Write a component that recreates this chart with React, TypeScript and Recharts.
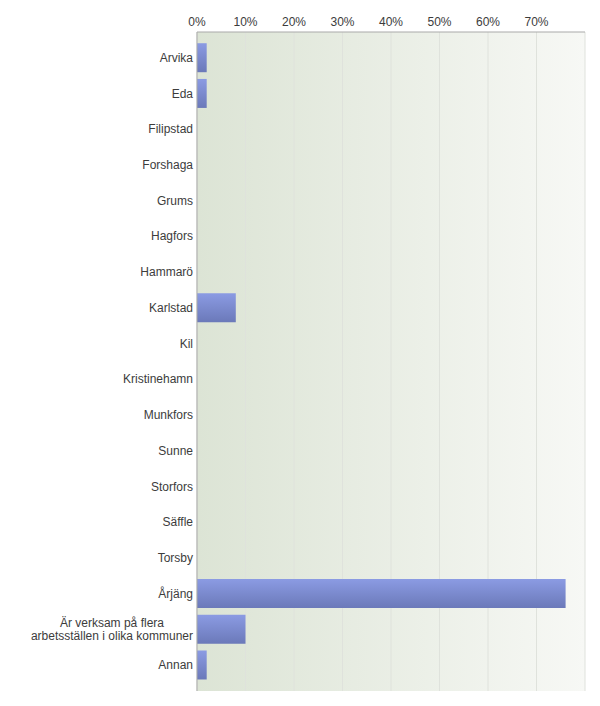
import { Bar, BarChart, CartesianGrid, XAxis, YAxis } from 'recharts'

const categories = [
  'Arvika',
  'Eda',
  'Filipstad',
  'Forshaga',
  'Grums',
  'Hagfors',
  'Hammarö',
  'Karlstad',
  'Kil',
  'Kristinehamn',
  'Munkfors',
  'Sunne',
  'Storfors',
  'Säffle',
  'Torsby',
  'Årjäng',
  'Är verksam på flera\narbetsställen i olika kommuner',
  'Annan',
]
const percents = [2, 2, 0, 0, 0, 0, 0, 8, 0, 0, 0, 0, 0, 0, 0, 76, 10, 2]
const xTicks = [0, 10, 20, 30, 40, 50, 60, 70]

const data = categories.map((name, i) => ({ name, value: percents[i] }))

const font = 'Arial, "Liberation Sans", sans-serif'
const border = '#a9a9a9'

let ctx: CanvasRenderingContext2D | null = null
function textWidth(s: string) {
  if (!ctx) ctx = document.createElement('canvas').getContext('2d')
  if (!ctx) return s.length * 6
  ctx.font = `12px ${font}`
  return ctx.measureText(s).width
}

function CategoryTick(props: any) {
  const { x, y, payload } = props
  const lines = String(payload.value).split('\n')
  const lh = 13
  const start = -((lines.length - 1) * lh) / 2
  if (lines.length === 1) {
    return (
      <text x={x} y={y} dy={4} textAnchor="end" fill="#3c3c3c" fontSize={12} fontFamily={font}>
        {lines[0]}
      </text>
    )
  }
  // multi-line labels are centred on the widest line, right edge at the axis
  const w = Math.max(...lines.map(textWidth))
  const cx = x - w / 2
  return (
    <text x={cx} y={y} textAnchor="middle" fill="#3c3c3c" fontSize={12} fontFamily={font}>
      {lines.map((l, i) => (
        <tspan key={i} x={cx} dy={i === 0 ? start + 4 : lh}>
          {l}
        </tspan>
      ))}
    </text>
  )
}

export default function App() {
  return (
    <div style={{ position: 'absolute', left: 0, top: 0, width: 600, height: 706, background: '#fff' }}>
      <BarChart
        width={600}
        height={706}
        data={data}
        layout="vertical"
        margin={{ top: 0, right: 15, bottom: 15, left: 0 }}
        barCategoryGap="9%"
      >
        <defs>
          <linearGradient id="bg" x1="0" y1="0" x2="1" y2="0">
            <stop offset="0%" stopColor="#dce4d5" />
            <stop offset="100%" stopColor="#f7f8f5" />
          </linearGradient>
          <linearGradient id="barFill" x1="0" y1="0" x2="0" y2="1">
            <stop offset="0%" stopColor="#8b9be3" />
            <stop offset="100%" stopColor="#6b79b9" />
          </linearGradient>
        </defs>
        <CartesianGrid horizontal={false} stroke="#dfe2dc" fill="url(#bg)" fillOpacity={1} />
        <XAxis
          type="number"
          orientation="top"
          domain={[0, 80]}
          ticks={xTicks}
          tickFormatter={(v: number) => `${v}%`}
          height={32}
          tickLine={false}
          axisLine={{ stroke: border }}
          tickSize={0}
          tickMargin={6}
          tick={{ fill: '#3c3c3c', fontSize: 12, fontFamily: font }}
          interval={0}
        />
        {/* bottom edge of the plot frame */}
        <XAxis
          xAxisId="frame"
          type="number"
          orientation="bottom"
          domain={[0, 80]}
          height={0}
          tick={false}
          tickLine={false}
          axisLine={{ stroke: border }}
        />
        <YAxis
          type="category"
          dataKey="name"
          width={197}
          padding={{ top: 8, bottom: 8 }}
          tickLine={false}
          axisLine={{ stroke: border }}
          tickSize={0}
          tickMargin={4}
          tick={<CategoryTick />}
          interval={0}
        />
        {/* right edge of the plot frame */}
        <YAxis
          yAxisId="frame"
          type="category"
          dataKey="name"
          orientation="right"
          width={0}
          tick={false}
          tickLine={false}
          axisLine={{ stroke: border }}
        />
        <Bar dataKey="value" fill="url(#barFill)" isAnimationActive={false} />
      </BarChart>
    </div>
  )
}
